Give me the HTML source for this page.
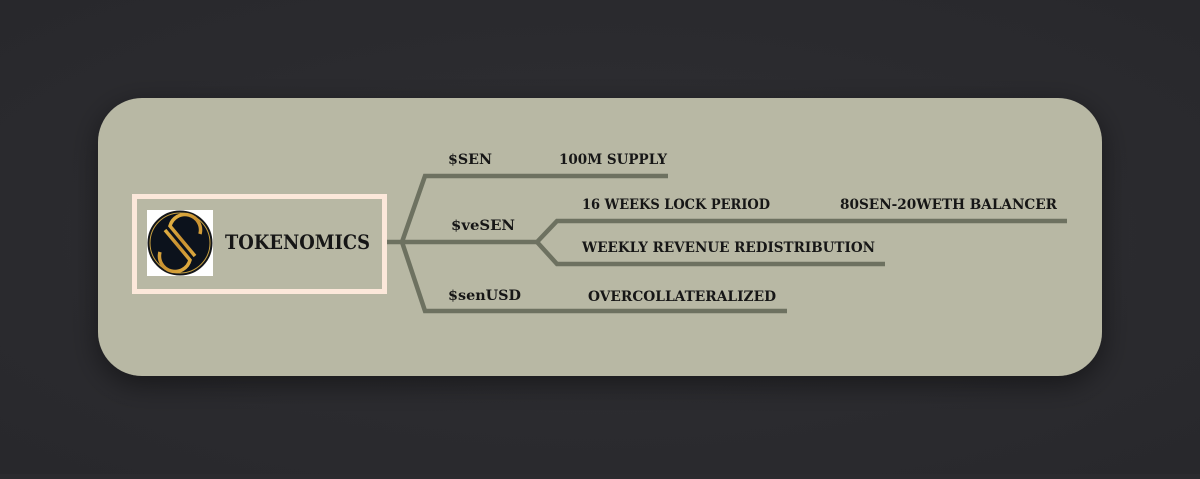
<!DOCTYPE html>
<html><head><meta charset="utf-8"><style>
html,body{margin:0;padding:0;background:#2b2b2f;}
body{width:1200px;height:474px;overflow:hidden;}
</style></head><body>
<svg width="1200" height="474" viewBox="0 0 1200 474" xmlns="http://www.w3.org/2000/svg">
<defs>
<radialGradient id="bg" cx="50%" cy="50%" r="70%"><stop offset="0" stop-color="#2f2f33"/><stop offset="1" stop-color="#28282c"/></radialGradient>
<filter id="sh" x="-10%" y="-20%" width="120%" height="150%"><feDropShadow dx="0" dy="8" stdDeviation="14" flood-color="#000" flood-opacity="0.45"/></filter>
<linearGradient id="gold" x1="0" y1="0" x2="1" y2="1"><stop offset="0" stop-color="#f0c24e"/><stop offset="0.5" stop-color="#c89030"/><stop offset="1" stop-color="#e8b848"/></linearGradient>
</defs>
<rect width="1200" height="474" fill="url(#bg)"/>
<rect x="98" y="98" width="1004" height="278" rx="44" fill="#b8b8a4" filter="url(#sh)"/>
<rect x="134.5" y="196.5" width="250" height="95" fill="none" stroke="#fce8da" stroke-width="5"/>
<rect x="147" y="210" width="66" height="66" fill="#fff"/>
<circle cx="180" cy="243" r="32" fill="#0c121c" stroke="#1a1a1a" stroke-width="1"/>
<circle cx="180" cy="243" r="30" fill="none" stroke="#c8a040" stroke-width="1"/>
<path d="M200 234 A14 14 0 0 0 170 226 L195 256 M160 252 A14 14 0 0 0 190 260 L165 230" fill="none" stroke="url(#gold)" stroke-width="3.5"/>
<g fill="none" stroke="#6d7160" stroke-width="4.5" stroke-linejoin="miter">
<path d="M387 242 H402 L425 176 H668"/>
<path d="M402 242 L425 311 H787"/>
<path d="M402 242 H537 L557 221 H1067"/>
<path d="M537 242 L557 264 H885"/>
</g>
<g font-family="'DejaVu Serif','Liberation Serif',serif" font-weight="bold" fill="#161616">
<text x="225" y="249" font-size="20" textLength="145" lengthAdjust="spacingAndGlyphs">TOKENOMICS</text>
<g font-size="14">
<text x="448" y="164" textLength="44" lengthAdjust="spacingAndGlyphs">$SEN</text>
<text x="559" y="164" textLength="108" lengthAdjust="spacingAndGlyphs">100M SUPPLY</text>
<text x="451" y="230" textLength="64" lengthAdjust="spacingAndGlyphs">$veSEN</text>
<text x="582" y="209" textLength="188" lengthAdjust="spacingAndGlyphs">16 WEEKS LOCK PERIOD</text>
<text x="840" y="209" textLength="217" lengthAdjust="spacingAndGlyphs">80SEN-20WETH BALANCER</text>
<text x="582" y="252" textLength="293" lengthAdjust="spacingAndGlyphs">WEEKLY REVENUE REDISTRIBUTION</text>
<text x="448" y="300" textLength="73" lengthAdjust="spacingAndGlyphs">$senUSD</text>
<text x="588" y="301" textLength="188" lengthAdjust="spacingAndGlyphs">OVERCOLLATERALIZED</text>
</g>
</g>
</svg>
</body></html>
